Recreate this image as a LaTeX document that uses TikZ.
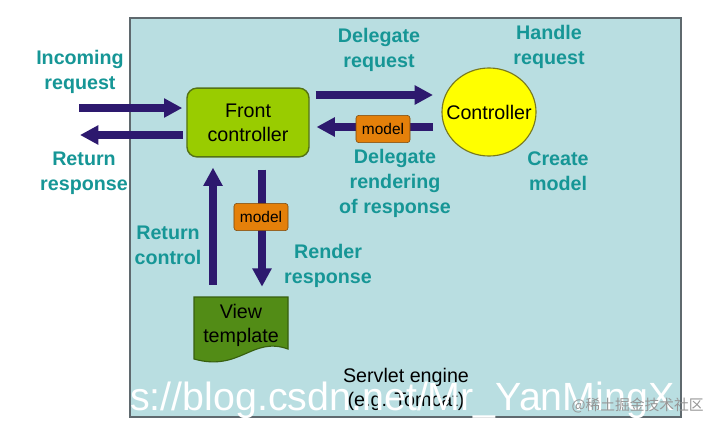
\documentclass[tikz,border=0pt]{standalone}
\usepackage{fontspec}
\setmainfont{Liberation Sans}
\newfontfamily\cjkfont{Noto Sans CJK SC}
\usetikzlibrary{arrows.meta,shapes.geometric}

\definecolor{bgblue}{RGB}{185,222,225}
\definecolor{boxgray}{RGB}{95,105,110}
\definecolor{labelteal}{RGB}{22,150,150}
\definecolor{arrowpurple}{RGB}{45,25,110}
\definecolor{fcgreen}{RGB}{153,204,0}
\definecolor{fcborder}{RGB}{85,115,20}
\definecolor{ctlyellow}{RGB}{255,255,0}
\definecolor{ctlborder}{RGB}{120,120,30}
\definecolor{modelorange}{RGB}{228,128,10}
\definecolor{modelborder}{RGB}{120,70,10}
\definecolor{viewgreen}{RGB}{82,140,22}
\definecolor{viewborder}{RGB}{55,95,15}
\definecolor{markgray}{RGB}{150,150,150}

\tikzset{
  lbl/.style={font=\fontsize{14}{17.8}\selectfont\bfseries, text=labelteal, align=center},
  plain/.style={font=\fontsize{14}{17}\selectfont, align=center},
  flow/.style={draw=arrowpurple, line width=5pt, -{Triangle[length=13pt,width=13pt]}},
  modelbox/.style={draw=modelborder, fill=modelorange, rounded corners=2pt,
    minimum width=1.35cm, minimum height=0.68cm, inner sep=0pt,
    font=\fontsize{11}{13}\selectfont},
}

\begin{document}
\begin{tikzpicture}[x=0.025cm, y=-0.025cm]
    \useasboundingbox (0,0) rectangle (720,428);
    % Servlet engine box
    \draw[boxgray, fill=bgblue, line width=0.8pt] (130,18) rectangle (681,417);
    \node[plain] (engine) at (406,389) {Servlet engine\\(e.g. Tomcat)};

    % View template shape (page with wavy bottom)
    \draw[viewborder, fill=viewgreen, line width=0.8pt] (194,297) -- (288,297) -- (288,349)
        .. controls (252,336) and (240,372) .. (194,359) -- cycle;

    % Nodes
    \node[plain, draw=fcborder, fill=fcgreen, line width=1pt, rounded corners=0.25cm,
          minimum width=3.05cm, minimum height=1.72cm] (fc) at (248,122.5) {Front\\controller};
    \node[plain, ellipse, draw=ctlborder, fill=ctlyellow, line width=0.8pt,
          inner xsep=-0.3cm, inner ysep=0pt,
          minimum width=2.35cm, minimum height=2.2cm] (ctl) at (489,112) {Controller};
    \node[plain, minimum width=2.35cm, minimum height=1.4cm, inner sep=0pt] (vt) at (241,325) {View\\template};

    % Arrows in and out
    \coordinate (inTail) at (79,108);
    \coordinate (outTip) at (80,135);
    \draw[flow] (inTail) -- ([xshift=-0.1cm]fc.west |- inTail);
    \draw[flow] ([xshift=-0.08cm]fc.west |- outTip) -- (outTip);

    % Arrows to and from the controller
    \coordinate (delTip) at (433,95);
    \coordinate (backTail) at (433,127);
    \draw[flow] ([xshift=0.15cm]fc.east |- delTip) -- (delTip);
    \draw[flow] (backTail) -- ([xshift=0.17cm]fc.east |- backTail);
    \node[modelbox] (mdlA) at (383,129) {model};

    % Arrows to and from the view
    \coordinate (upTail) at ([shift={(-28,-12)}]vt.north);
    \coordinate (downTip) at ([shift={(21,-10)}]vt.north);
    \draw[flow] (upTail) -- ([yshift=-0.25cm]upTail |- fc.south);
    \draw[flow] ([yshift=-0.3cm]downTip |- fc.south) -- (downTip);
    \node[modelbox] (mdlB) at (261,217) {model};

    % Labels
    \node[lbl] at (80,72) {Incoming\\request};
    \node[lbl] at (84,173.5) {Return\\response};
    \node[lbl] at (379,50) {Delegate\\request};
    \node[lbl] at (549,46.5) {Handle\\request};
    \node[lbl] at (395,183) {Delegate\\rendering\\of response};
    \node[lbl] at (558,171) {Create\\model};
    \node[lbl] at (168,245) {Return\\control};
    \node[lbl] at (328,265.5) {Render\\response};

    % Watermarks
    \node[white, font=\fontsize{28}{30}\selectfont, anchor=base west, inner sep=0pt] at (130,410) {s://blog.csdn.net/Mr\_YanMingX};
    \node[markgray, font=\cjkfont\fontsize{10.5}{12}\selectfont, anchor=east, inner sep=0pt] at (704,405) {@稀土掘金技术社区};
\end{tikzpicture}
\end{document}
